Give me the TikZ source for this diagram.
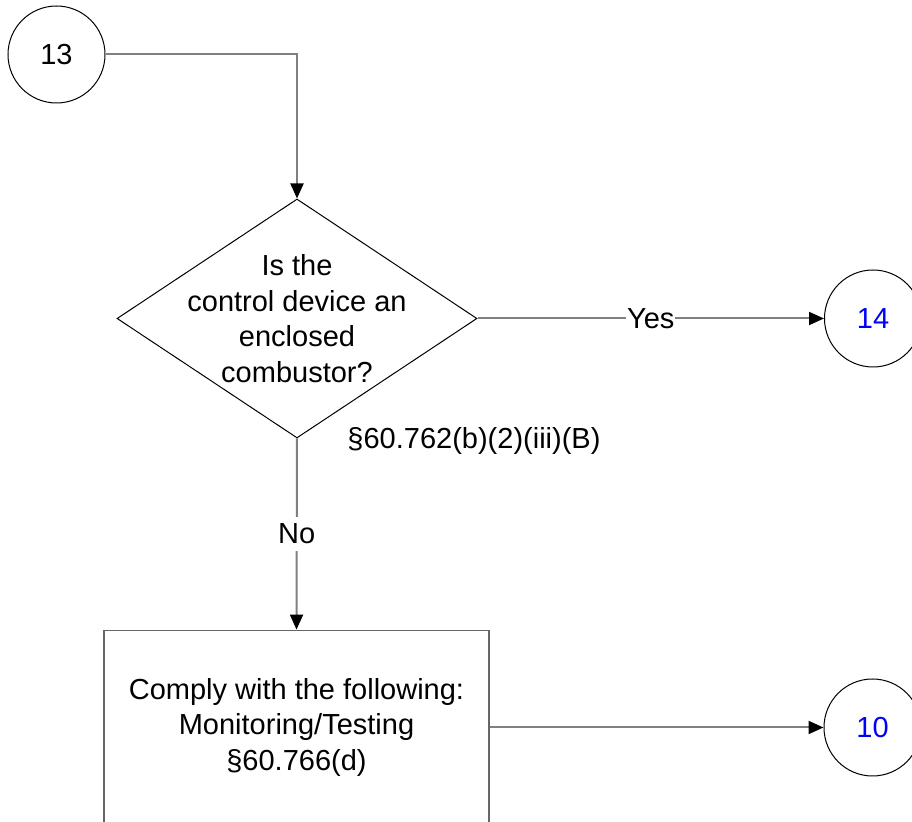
\documentclass[tikz,border=0pt]{standalone}
\usepackage{fontspec}
\setmainfont{Liberation Sans}
\usetikzlibrary{shapes.geometric, arrows.meta}
\newcommand{\linkcolor}{black!50!white}
\newcommand{\boxcolor}{black!60!white}
\newcommand{\refcolor}{blue}

\begin{document}
\begin{tikzpicture}[x=0.5pt, y=-0.5pt, >={Triangle[length=7.5pt, width=6.5pt, color=black]},
    every node/.style={font=\fontsize{14.5}{17.75}\selectfont, align=center},
    link/.style={draw=\linkcolor, line width=1pt},
    offpage/.style={circle, draw, line width=0.5pt, minimum size=48.5pt, inner sep=0pt},
    tag/.style={fill=white, inner xsep=0.5pt, inner ysep=3.5pt}]
    \useasboundingbox (0, 0) rectangle (912, 822);

    % connectors in and out
    \node [offpage] (c13) at (56.5, 54.5) {13};
    \node [offpage, text=\refcolor] (c14) at (873, 318.5) {14};
    \node [offpage, text=\refcolor] (c10) at (872.5, 727.5) {10};

    % decision
    \node [diamond, draw, line width=0.5pt, minimum width=180pt, minimum height=119.5pt, inner sep=0pt] (q) at (297, 318.5) {};
    \node (qtext) at (297, 318.5) {Is the\\control device an\\enclosed\\combustor?};
    \node (cite) at (474, 441) {\S60.762(b)(2)(iii)(B)};

    % action
    \node [draw=\boxcolor, line width=0.9pt, minimum width=192.5pt, minimum height=97pt] (act) at (296.5, 727.5)
        {Comply with the following:\\Monitoring/Testing\\\S60.766(d)};

    % links
    \draw [link, ->] (c13) -| (q.north);
    \draw [link, ->] (q.east) -- node [tag] {Yes} (c14.west);
    \draw [link, ->] (q.south) -- node [tag] {No} (act.north);
    \draw [link, ->] (act.east) -- (c10.west);
\end{tikzpicture}
\end{document}
